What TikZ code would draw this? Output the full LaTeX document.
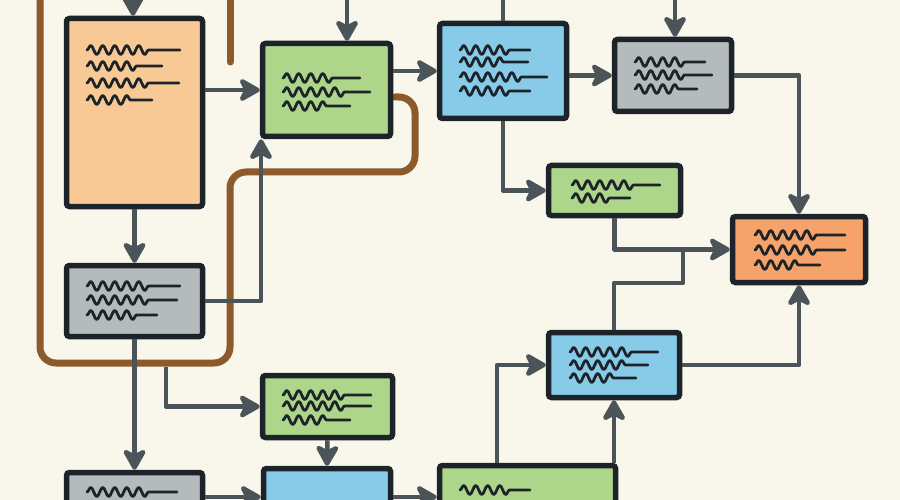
\documentclass[tikz,border=0pt]{standalone}
\usepackage{tikz}
\usetikzlibrary{arrows.meta,positioning,calc,decorations.pathmorphing}
\definecolor{paper}{HTML}{F9F6EC}
\definecolor{ink}{HTML}{1C2329}
\definecolor{wire}{HTML}{4B5459}
\definecolor{rust}{HTML}{8D5A2B}
\definecolor{peach}{HTML}{F8C994}
\definecolor{leaf}{HTML}{AED68B}
\definecolor{sky}{HTML}{88CBE8}
\definecolor{stone}{HTML}{B5BABC}
\definecolor{apricot}{HTML}{F5A26B}

\begin{document}
\begin{tikzpicture}[x=1pt,y=-1pt,
    box/.style={draw=ink,line width=5.5pt,rounded corners=3pt,inner sep=0pt},
    conn/.style={draw=wire,line width=4.5pt,line join=round},
    arr/.style={conn,-{Stealth[length=25pt,width=28pt,inset=7pt,round]}},
    loopline/.style={draw=rust,line width=7pt,rounded corners=16pt,line cap=round},
    scrib/.style={draw=ink,line width=2.8pt,line cap=round,line join=round,
      decoration={snake,amplitude=4.5pt,segment length=12pt}}]
  \useasboundingbox (0,0) rectangle (900,500);
  \clip (0,0) rectangle (900,500);
  \fill[paper] (0,0) rectangle (900,500);

  % brown loop behind everything
  \draw[loopline] (230,0) -- (230,62);
  \draw[loopline] (395,97) -- (415,97) -- (415,172) -- (230,172) -- (230,363) -- (40,363) -- (40,-10);

  % boxes
  \node[box,fill=peach,minimum width=136pt,minimum height=188pt] (A) at (134.5,112.5) {};
  \node[box,fill=leaf,minimum width=128pt,minimum height=93pt] (C) at (326.5,90) {};
  \node[box,fill=sky,minimum width=127pt,minimum height=95pt] (D) at (503,71) {};
  \node[box,fill=stone,minimum width=117pt,minimum height=72pt] (F) at (673,75.5) {};
  \node[box,fill=leaf,minimum width=132pt,minimum height=50pt] (E) at (614.5,190.5) {};
  \node[box,fill=apricot,minimum width=133pt,minimum height=66pt] (G) at (799,249.5) {};
  \node[box,fill=sky,minimum width=131pt,minimum height=65pt] (H) at (614,365) {};
  \node[box,fill=stone,minimum width=136pt,minimum height=71pt] (B) at (134.5,301) {};
  \node[box,fill=leaf,minimum width=130pt,minimum height=62pt] (K) at (327.5,406.5) {};
  \node[box,fill=stone,minimum width=136pt,minimum height=55pt] (J) at (134.5,500) {};
  \node[box,fill=sky,minimum width=127pt,minimum height=57pt] (L) at (327,497) {};
  \node[box,fill=leaf,minimum width=176pt,minimum height=63pt] (I) at (527.5,497) {};

  % free ends
  \coordinate (inA) at (133,0);
  \coordinate (inC) at (347,0);
  \coordinate (inD) at (503,0);
  \coordinate (inF) at (675,0);
  \coordinate (k0) at (166,367);
  \coordinate (mg) at (683,283);

  % connectors
  \draw[arr] (inA) -- (inA |- A.north);
  \draw[arr] (inC) -- (inC |- C.north);
  \draw[conn] (inD) -- (D.north);
  \draw[arr] (inF) -- (inF |- F.north);
  \draw[arr] (A.east |- C) -- (C.west);
  \draw[arr] (C.east |- D) -- (D.west);
  \draw[arr] (D.east |- F) -- (F.west);
  \draw[arr] (F.east) -| (G.north);
  \draw[arr] (D.south) |- (E.west);
  \draw[arr] (E.south) |- (G.west);
  \draw[conn] (H.north) |- (mg) -- (mg |- G.west);
  \draw[arr] (H.east) -| (G.south);
  \draw[arr] ([xshift=-30.5pt]I.north) |- (H.west);
  \draw[arr] (H.south |- I.north) -- (H.south);
  \draw[arr] (A.south) -- (B.north);
  \draw[arr] (B.east) -| ([xshift=-65.5pt]C.south);
  \draw[arr] (B.south) -- (J.north);
  \draw[arr] (k0) |- (K.west);
  \draw[arr] (K.south) -- (L.north);
  \draw[arr] (J.east |- L) -- (L.west);
  \draw[arr] (L.east |- I) -- (I.west);

  % scribbled labels
  \foreach \x/\y/\l in {87/50/93, 87/66/75, 87/83/92, 87/100/65,
      283/78/77, 283/92/87, 283/106/67,
      460/50/70, 460/62/68, 460/77/87, 460/91/70,
      635/62/70, 635/75/77, 635/89/62,
      572/185/88, 572/198/58,
      755/235/90, 755/250/90, 755/265/65,
      570/352/88, 570/365/78, 570/378/66,
      87/286/93, 87/300/90, 87/315/70,
      283/395/88, 283/406/88, 283/420/67,
      87/492/90, 460/490/70}
    \draw[scrib] (\x,\y) decorate {-- ++(0.72*\l,0)} -- ++(0.28*\l,0);
\end{tikzpicture}
\end{document}
